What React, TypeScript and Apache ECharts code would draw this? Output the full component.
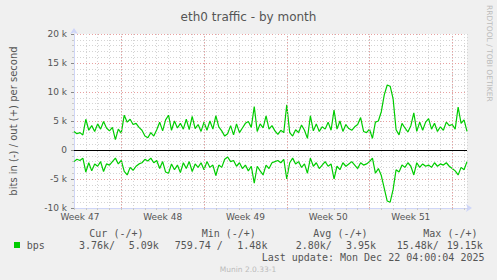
import React, { useEffect, useRef } from "react";
import * as echarts from "echarts";

// time axis in days (day 0 = start of ISO week 47); one sample every 6 hours
const xStart = 3;
const xStep = 0.25;

// outgoing traffic (+), in kbit/s
const outK = [
  3.2, 2.8, 3.0, 2.6, 5.3, 3.4, 4.2, 3.2, 4.5, 3.6, 4.9, 3.8, 3.3, 3.9, 1.8, 3.6, 2.9, 6.0, 4.8, 5.3,
  4.4, 4.6, 3.9, 3.4, 2.4, 2.1, 3.0, 2.4, 3.5, 4.8, 3.3, 5.2, 6.0, 3.4, 5.0, 3.8, 4.6, 3.6, 5.3, 3.5,
  5.8, 3.7, 4.4, 3.2, 4.8, 3.4, 5.0, 3.6, 5.9, 4.0, 3.3, 2.4, 2.8, 4.2, 2.6, 4.5, 3.0, 3.8, 4.6, 4.9,
  3.9, 7.5, 3.2, 4.5, 3.8, 5.9, 3.6, 4.2, 3.3, 2.7, 3.4, 3.0, 7.8, 3.0, 2.4, 3.5, 3.0, 4.3, 3.4, 2.0,
  5.9, 3.3, 4.5, 3.2, 4.0, 3.6, 4.8, 3.4, 6.9, 3.6, 5.0, 3.2, 4.4, 3.7, 3.4, 4.0, 4.4, 5.6, 3.2, 3.0,
  3.6, 2.0, 4.8, 5.0, 6.6, 9.5, 11.2, 11.0, 8.8, 3.5, 2.6, 4.6, 3.8, 3.1, 4.2, 6.4, 3.2, 4.8, 3.4, 4.8,
  5.4, 3.6, 4.6, 3.2, 4.0, 3.4, 4.8, 4.2, 4.4, 3.6, 7.4, 4.6, 5.2, 3.2,
];

// incoming traffic (-), magnitude in kbit/s
const inK = [
  2.0, 1.6, 1.8, 1.4, 3.8, 2.2, 3.6, 2.4, 2.8, 2.0, 3.7, 2.4, 2.6, 2.0, 1.4, 2.4, 1.8, 3.7, 4.3, 3.0,
  3.5, 2.8, 2.4, 2.2, 1.6, 1.9, 1.4, 2.2, 1.8, 3.2, 2.0, 3.8, 4.0, 2.4, 3.4, 2.6, 3.9, 2.2, 3.2, 2.0,
  3.7, 2.4, 3.0, 2.2, 3.4, 2.0, 3.0, 2.6, 4.4, 2.6, 3.0, 1.6, 1.2, 2.0, 1.8, 2.8, 2.2, 3.2, 2.6, 3.6,
  2.8, 5.7, 2.8, 3.6, 4.3, 2.6, 3.2, 2.2, 2.0, 1.8, 2.2, 1.6, 5.0, 2.2, 1.4, 2.4, 2.0, 3.0, 2.4, 4.0,
  1.4, 2.8, 2.2, 3.2, 2.6, 2.0, 2.8, 2.4, 5.0, 2.8, 3.4, 2.2, 2.8, 2.4, 2.0, 2.6, 3.2, 2.2, 2.6, 2.4,
  2.0, 1.4, 4.0, 3.2, 4.4, 6.6, 8.8, 9.0, 6.8, 3.4, 3.8, 2.6, 3.0, 2.2, 2.8, 4.3, 2.2, 3.0, 2.4, 2.8,
  2.6, 3.0, 2.2, 2.8, 2.4, 2.6, 2.2, 2.8, 3.2, 3.6, 4.3, 3.0, 3.4, 2.0,
];

const weekStarts = [7, 14, 21, 28, 35];
const weekLabelPos = [3.5, 10.5, 17.5, 24.5, 31.5];
const weekLabels = ["Week 47", "Week 48", "Week 49", "Week 50", "Week 51"];

const legendHeaders = ["Cur (-/+)", "Min (-/+)", "Avg (-/+)", "Max (-/+)"];
const legendValues = ["3.76k/", "5.09k", "759.74 /", "1.48k", "2.80k/", "3.95k", "15.48k/", "19.15k"];
const lastUpdate = "Last update: Mon Dec 22 04:00:04 2025";

export default function App() {
  const ref = useRef<HTMLDivElement>(null);

  useEffect(() => {
    if (!ref.current) return;
    const chart = echarts.init(ref.current, undefined, { renderer: "svg" });
    const xMax = xStart + xStep * (outK.length - 1);
    const outData = outK.map((v, i) => [xStart + i * xStep, v * 1000]);
    const inData = inK.map((v, i) => [xStart + i * xStep, -v * 1000]);
    const font = "DejaVu Sans";
    const mono = "DejaVu Sans Mono";
    const txt = "#555555";

    const headerX = [89.3, 201.7, 313.3, 423.3];
    const valueX = [79, 128.7, 174.7, 237.3, 295.7, 346, 396.7, 446.7];

    chart.setOption({
      animation: false,
      backgroundColor: "#F0F0F0",
      title: {
        text: "eth0 traffic - by month",
        left: "center",
        top: 6,
        textStyle: { fontFamily: font, fontSize: 12, fontWeight: "normal", color: "#555555" },
      },
      grid: {
        left: 67,
        right: 30,
        top: 34,
        bottom: 72,
        show: true,
        backgroundColor: "#FFFFFF",
        borderWidth: 0,
      },
      xAxis: {
        type: "value",
        min: xStart,
        max: xMax,
        interval: 1,
        axisLine: {
          show: true,
          onZero: false,
          lineStyle: { color: "#CFD6F8", width: 1 },
          symbol: ["none", "arrow"],
          symbolSize: [6, 6],
          symbolOffset: [0, 5],
        },
        axisTick: { show: true, length: 2, lineStyle: { color: "#C8C8C8" } },
        axisLabel: {
          customValues: weekLabelPos,
          formatter: (v: number) => {
            const idx = weekLabelPos.indexOf(v);
            return idx >= 0 ? weekLabels[idx] : "";
          },
          fontFamily: font,
          fontSize: 9,
          color: txt,
          margin: 4,
          showMinLabel: true,
          showMaxLabel: true,
        },
        splitLine: { show: true, lineStyle: { color: "#D4D4D4", type: [1, 2], width: 1 } },
      },
      yAxis: {
        type: "value",
        min: -10000,
        max: 20000,
        interval: 5000,
        name: "bits in (-) / out (+) per second",
        nameLocation: "middle",
        nameGap: 56,
        nameTextStyle: { fontFamily: font, fontSize: 10, color: txt },
        axisLine: {
          show: true,
          lineStyle: { color: "#CFD6F8", width: 1 },
          symbol: ["none", "arrow"],
          symbolSize: [6, 6],
          symbolOffset: [0, 6],
        },
        axisTick: { show: true, length: 3, lineStyle: { color: "#888888" } },
        minorTick: { show: true, splitNumber: 5, length: 2, lineStyle: { color: "#C8C8C8" } },
        axisLabel: {
          formatter: (v: number) => (v === 0 ? "0" : v / 1000 + " k"),
          fontFamily: font,
          fontSize: 9,
          color: txt,
          margin: 7,
        },
        splitLine: { show: true, lineStyle: { color: "#E8A0A0", type: [1, 2], width: 1 } },
        minorSplitLine: { show: true, lineStyle: { color: "#D4D4D4", type: [1, 2], width: 1 } },
      },
      series: [
        {
          type: "line",
          data: [],
          silent: true,
          z: 1,
          markLine: {
            silent: true,
            symbol: ["none", "none"],
            label: { show: false },
            lineStyle: { color: "#E8A0A0", type: [1, 2], width: 1 },
            data: weekStarts.map((w) => ({ xAxis: w })),
          },
        },
        {
          type: "line",
          data: [],
          silent: true,
          z: 2,
          markLine: {
            silent: true,
            symbol: ["none", "none"],
            label: { show: false },
            lineStyle: { color: "#000000", type: "solid", width: 1.2 },
            data: [{ yAxis: 0 }],
          },
        },
        {
          name: "out",
          type: "line",
          data: outData,
          showSymbol: false,
          z: 3,
          lineStyle: { color: "#00CC00", width: 1.2 },
          itemStyle: { color: "#00CC00" },
        },
        {
          name: "in",
          type: "line",
          data: inData,
          showSymbol: false,
          z: 3,
          lineStyle: { color: "#00CC00", width: 1.2 },
          itemStyle: { color: "#00CC00" },
        },
      ],
      graphic: [
        {
          type: "text",
          x: 489,
          y: 5,
          rotation: -Math.PI / 2,
          style: {
            text: "RRDTOOL / TOBI OETIKER",
            fontFamily: font,
            fontSize: 7.5,
            fill: "#BBBBBB",
            textAlign: "left",
            textVerticalAlign: "middle",
          },
        },
        ...legendHeaders.map((h, i) => ({
          type: "text",
          x: headerX[i],
          y: 233,
          style: { text: h, fontFamily: mono, fontSize: 10, fill: txt, textVerticalAlign: "middle" },
        })),
        {
          type: "rect",
          shape: { x: 14, y: 242, width: 6, height: 6 },
          style: { fill: "#00CC00" },
        },
        {
          type: "text",
          x: 26.7,
          y: 245.5,
          style: { text: "bps", fontFamily: mono, fontSize: 10, fill: txt, textVerticalAlign: "middle" },
        },
        ...legendValues.map((v, i) => ({
          type: "text",
          x: valueX[i],
          y: 245.5,
          style: { text: v, fontFamily: mono, fontSize: 10, fill: txt, textVerticalAlign: "middle" },
        })),
        {
          type: "text",
          x: 261.7,
          y: 257.5,
          style: { text: lastUpdate, fontFamily: mono, fontSize: 10, fill: txt, textVerticalAlign: "middle" },
        },
        {
          type: "text",
          x: 248,
          y: 269.3,
          style: {
            text: "Munin 2.0.33-1",
            fontFamily: font,
            fontSize: 7.5,
            fill: "#BBBBBB",
            textAlign: "center",
            textVerticalAlign: "middle",
          },
        },
      ],
    });
    return () => chart.dispose();
  }, []);

  return (
    <div
      style={{ position: "fixed", left: 0, top: 0, width: 497, height: 280, background: "#F0F0F0" }}
    >
      <div ref={ref} style={{ width: 497, height: 280 }} />
    </div>
  );
}
